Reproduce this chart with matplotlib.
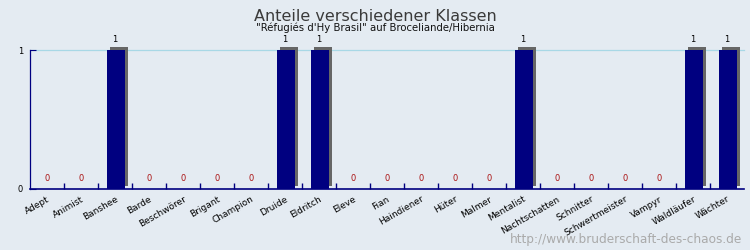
import numpy as np
import matplotlib
matplotlib.use("Agg")
import matplotlib.pyplot as plt
import matplotlib.patheffects as pe

# data
klassen = ['Adept', 'Animist', 'Banshee', 'Barde', 'Beschwörer', 'Brigant', 'Champion',
           'Druide', 'Eldritch', 'Eleve', 'Fian', 'Haindiener', 'Hüter', 'Malmer',
           'Mentalist', 'Nachtschatten', 'Schnitter', 'Schwertmeister', 'Vampyr',
           'Waldläufer', 'Wächter']
anzahl = [0, 0, 1, 0, 0, 0, 0, 1, 1, 0, 0, 0, 0, 0, 1, 0, 0, 0, 0, 1, 1]

bg = '#e4ebf2'
navy = '#000080'

fig = plt.figure(figsize=(7.5, 2.5), dpi=100, facecolor=bg)
ax = fig.add_axes([30 / 750, 1 - 189 / 250, 714 / 750, 139 / 250], facecolor=bg)

x = np.arange(len(klassen))
vals = np.array(anzahl)
bars = ax.bar(x + 0.03, vals, width=0.54, color=navy, zorder=3, clip_on=False)
for b in bars:
    b.set_path_effects([pe.SimplePatchShadow(offset=(2.3, 2.3), shadow_rgbFace='#666666', alpha=1.0),
                        pe.Normal()])

# value labels
for xi, v in zip(x, vals):
    if v > 0:
        ax.annotate(str(v), (xi, v), xytext=(0, 4.5), textcoords='offset points',
                    ha='center', va='bottom', fontsize=6, color='black')
    else:
        ax.annotate(str(v), (xi, v), xytext=(0, 4.5), textcoords='offset points',
                    ha='center', va='bottom', fontsize=6, color='#aa1111')

ax.set_xlim(-0.5, len(klassen) - 0.5)
ax.set_ylim(0, 1)

# grid line at 1
ax.axhline(1, color='#a8d8e6', lw=0.9, zorder=1, clip_on=False)

for s in ['top', 'right']:
    ax.spines[s].set_visible(False)
ax.spines['left'].set_color(navy)
ax.spines['bottom'].set_color(navy)
ax.spines['left'].set_linewidth(0.9)
ax.spines['bottom'].set_linewidth(1.2)

ax.set_yticks([0, 1])
ax.set_yticklabels(['0', '1'], fontsize=6)
ax.tick_params(axis='y', direction='in', length=4, color=navy, pad=5)

ax.set_xticks(x)
ax.set_xticklabels(klassen, rotation=30, ha='right', rotation_mode='anchor', fontsize=6.5)
ax.tick_params(axis='x', which='major', length=0, pad=4)
ax.set_xticks(np.arange(0.5, len(klassen) - 0.5, 1), minor=True)
ax.tick_params(axis='x', which='minor', direction='in', length=4, color=navy, width=1)
ax.spines['bottom'].set_bounds(-0.5, len(klassen) - 0.5)

fig.text(0.5, 1 - 16.5 / 250, 'Anteile verschiedener Klassen', ha='center', va='center',
         fontsize=11.5, color='#3a3a3a')
fig.text(0.5, 1 - 28 / 250, '"Réfugiés d\'Hy Brasil" auf Broceliande/Hibernia', ha='center', va='center',
         fontsize=7.3, color='#111111')
fig.text(742 / 750, 1 - 240 / 250, 'http://www.bruderschaft-des-chaos.de', ha='right', va='center',
         fontsize=8.7, color='#aaaaaa')

fig.savefig('out.png', dpi=100, facecolor=bg)
